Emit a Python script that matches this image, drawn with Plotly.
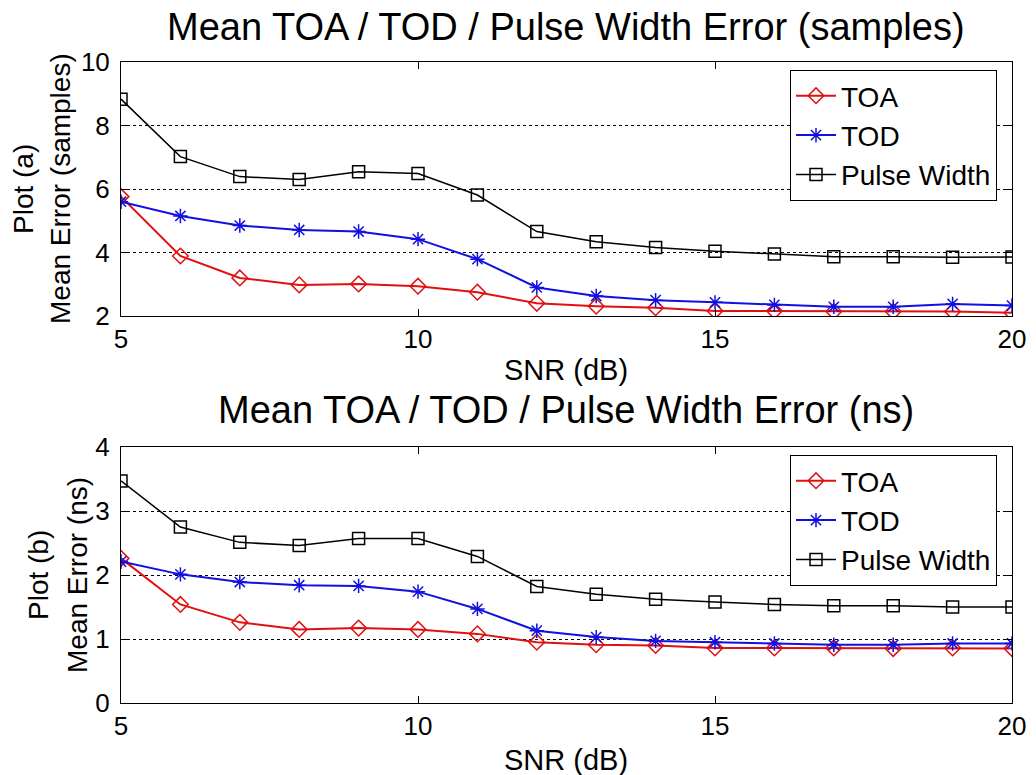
import plotly.graph_objects as go

snr = list(range(5, 21))

# Plot (a) - samples
toa_a = [5.76, 3.89, 3.20, 2.98, 3.01, 2.94, 2.75, 2.40, 2.31, 2.26, 2.16, 2.16, 2.14, 2.14, 2.14, 2.10]
tod_a = [5.60, 5.15, 4.85, 4.71, 4.66, 4.42, 3.79, 2.90, 2.63, 2.50, 2.43, 2.35, 2.29, 2.29, 2.38, 2.33]
pw_a = [8.83, 7.02, 6.39, 6.30, 6.54, 6.49, 5.81, 4.66, 4.34, 4.16, 4.04, 3.95, 3.87, 3.87, 3.85, 3.86]

# Plot (b) - ns
toa_b = [2.26, 1.54, 1.26, 1.15, 1.17, 1.15, 1.08, 0.95, 0.91, 0.90, 0.86, 0.86, 0.86, 0.85, 0.86, 0.85]
tod_b = [2.21, 2.01, 1.89, 1.84, 1.83, 1.74, 1.47, 1.13, 1.03, 0.97, 0.95, 0.93, 0.91, 0.91, 0.93, 0.93]
pw_b = [3.47, 2.75, 2.51, 2.46, 2.57, 2.57, 2.29, 1.82, 1.70, 1.62, 1.58, 1.54, 1.52, 1.52, 1.50, 1.50]

names = ["TOA", "TOD", "Pulse Width"]
colors = ["#e01010", "#1010e0", "#000000"]
symbols = ["diamond-open", "asterisk-open", "square-open"]
widths = [2, 2, 1.5]

FONT = "Liberation Sans, Arial, sans-serif"
W, H = 1036, 775

fig = go.Figure()

for ser, leg, xa, ya in [((toa_a, tod_a, pw_a), "legend", "x", "y"),
                         ((toa_b, tod_b, pw_b), "legend2", "x2", "y2")]:
    for vals, n, c, s, w in zip(ser, names, colors, symbols, widths):
        fig.add_trace(go.Scatter(
            x=snr, y=vals, name=n, mode="lines+markers",
            line=dict(color=c, width=w),
            marker=dict(symbol=s, size=12, color=c, line=dict(color=c, width=1.5)),
            xaxis=xa, yaxis=ya, legend=leg))

def px_x(p):
    return p / W

def px_y(p):
    return 1 - p / H

xdom = [px_x(121), px_x(1012)]
axis_common = dict(
    showline=True, linecolor="black", linewidth=1, mirror="ticks",
    ticks="inside", ticklen=7, tickcolor="black",
    tickfont=dict(family=FONT, size=26, color="black"),
    zeroline=False, automargin=False,
)
ygrid = dict(showgrid=True, gridcolor="black", griddash="dot", gridwidth=1)

legend_common = dict(
    xanchor="right", yanchor="top",
    bgcolor="white", bordercolor="black", borderwidth=1,
    font=dict(family=FONT, size=28, color="black"),
    tracegroupgap=0, itemwidth=40,
)

fig.update_layout(
    template="none",
    width=W, height=H,
    margin=dict(l=0, r=0, t=0, b=0),
    paper_bgcolor="white", plot_bgcolor="white",
    font=dict(family=FONT, color="black"),
    xaxis=dict(domain=xdom, anchor="y", range=[5, 20], tickvals=[5, 10, 15, 20],
               showgrid=False, ticklabelstandoff=0, **axis_common),
    yaxis=dict(domain=[px_y(316), px_y(62)], anchor="x", range=[2, 10],
               tickvals=[2, 4, 6, 8, 10], ticklabelstandoff=5, **ygrid, **axis_common),
    xaxis2=dict(domain=xdom, anchor="y2", range=[5, 20], tickvals=[5, 10, 15, 20],
                showgrid=False, ticklabelstandoff=0, **axis_common),
    yaxis2=dict(domain=[px_y(703), px_y(447)], anchor="x2", range=[0, 4],
                tickvals=[0, 1, 2, 3, 4], ticklabelstandoff=5, **ygrid, **axis_common),
    legend=dict(x=px_x(997), y=px_y(70), **legend_common),
    legend2=dict(x=px_x(997), y=px_y(455), **legend_common),
)

annots = [
    dict(text="Mean TOA / TOD / Pulse Width Error (samples)", x=566, y=27, size=38, angle=0),
    dict(text="Mean TOA / TOD / Pulse Width Error (ns)", x=566, y=410, size=38, angle=0),
    dict(text="SNR (dB)", x=566, y=370, size=29, angle=0),
    dict(text="SNR (dB)", x=566, y=760, size=29, angle=0),
    dict(text="Plot (a)", x=23, y=189, size=28, angle=-90),
    dict(text="Mean Error (samples)", x=60, y=189, size=28, angle=-90),
    dict(text="Plot (b)", x=38, y=575, size=28, angle=-90),
    dict(text="Mean Error (ns)", x=77, y=575, size=28, angle=-90),
]
for a in annots:
    fig.add_annotation(text=a["text"], x=px_x(a["x"]), y=px_y(a["y"]),
                       xref="paper", yref="paper",
                       xanchor="center", yanchor="middle", showarrow=False,
                       textangle=a["angle"],
                       font=dict(family=FONT, size=a["size"], color="black"))

fig.write_html("out.html")
